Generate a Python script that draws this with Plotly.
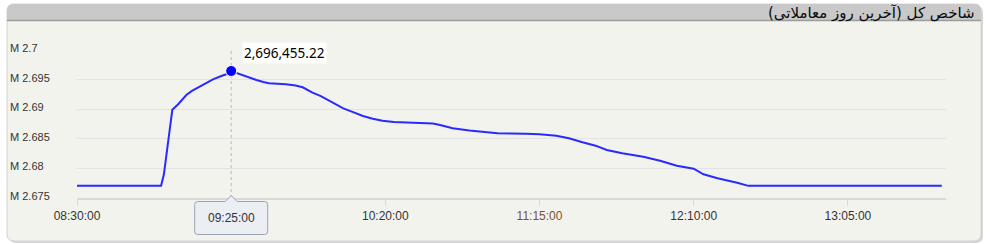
import plotly.graph_objects as go

# ---------------- data ----------------
day = "2024-01-01 "
times = ["08:30:00", "09:00:00", "09:01:00", "09:02:00", "09:03:00", "09:04:00", "09:06:00",
         "09:09:00", "09:11:00", "09:14:00", "09:16:00", "09:18:30", "09:21:30", "09:23:00",
         "09:25:00", "09:27:00", "09:29:00", "09:31:30", "09:34:00", "09:36:30", "09:38:30",
         "09:44:30", "09:48:00", "09:50:30", "09:52:30", "09:54:00", "09:57:00", "10:00:00",
         "10:03:00", "10:05:00", "10:08:30", "10:12:00", "10:15:30", "10:19:00", "10:23:00",
         "10:26:00", "10:34:00", "10:37:00", "10:39:30", "10:44:00", "10:50:00", "10:55:00",
         "11:00:00", "11:10:00", "11:15:00", "11:21:00", "11:25:30", "11:30:00", "11:35:00",
         "11:39:00", "11:44:30", "11:52:00", "11:58:00", "12:04:00", "12:10:00", "12:13:30",
         "12:18:30", "12:25:30", "12:29:30", "13:38:30"]
index_values = [2677050, 2677050, 2679000, 2682500, 2686200, 2689900, 2690800,
                2692400, 2693100, 2693850, 2694300, 2695050, 2695610, 2695850,
                2696455.22, 2696100, 2695780, 2695400, 2694930, 2694600, 2694380,
                2694210, 2694000, 2693700, 2693200, 2692790, 2692200, 2691390,
                2690600, 2690150, 2689500, 2688850, 2688400, 2688060, 2687850,
                2687800, 2687700, 2687600, 2687330, 2686780, 2686400, 2686150,
                2685930, 2685850, 2685770, 2685530, 2685090, 2684460, 2683840,
                2683110, 2682550, 2681960, 2681300, 2680460, 2679950, 2679000,
                2678330, 2677590, 2677050, 2677050]
peak_time = "09:25:00"
peak_value = 2696455.22
peak_label = "2,696,455.22"
x_tick_times = ["08:30:00", "09:25:00", "10:20:00", "11:15:00", "12:10:00", "13:05:00"]
y_tick_values = [2675000, 2680000, 2685000, 2690000, 2695000, 2700000]
y_tick_labels = ["M 2.675", "M 2.68", "M 2.685", "M 2.69", "M 2.695", "M 2.7"]
title_text = "شاخص کل (آخرین روز معاملاتی)"
x_range = ["08:30:00", "13:40:00"]

# ---------------- layout helpers ----------------
W, H = 990, 244
ML, MR, MT, MB = 77, 44, 50, 46
PW, PH = W - ML - MR, H - MT - MB


def X(px):
    return (px - ML) / PW


def Y(py):
    return (H - MB - py) / PH


def rounded_path(x0, y0, x1, y1, r, top=True, bottom=True):
    pts = []
    if top:
        pts.append(f"M{X(x0)},{Y(y0 + r)}")
        pts.append(f"Q{X(x0)},{Y(y0)} {X(x0 + r)},{Y(y0)}")
        pts.append(f"L{X(x1 - r)},{Y(y0)}")
        pts.append(f"Q{X(x1)},{Y(y0)} {X(x1)},{Y(y0 + r)}")
    else:
        pts.append(f"M{X(x0)},{Y(y0)}")
        pts.append(f"L{X(x1)},{Y(y0)}")
    if bottom:
        pts.append(f"L{X(x1)},{Y(y1 - r)}")
        pts.append(f"Q{X(x1)},{Y(y1)} {X(x1 - r)},{Y(y1)}")
        pts.append(f"L{X(x0 + r)},{Y(y1)}")
        pts.append(f"Q{X(x0)},{Y(y1)} {X(x0)},{Y(y1 - r)}")
    else:
        pts.append(f"L{X(x1)},{Y(y1)}")
        pts.append(f"L{X(x0)},{Y(y1)}")
    pts.append("Z")
    return " ".join(pts)


xs = [day + t for t in times]

fig = go.Figure()
fig.add_trace(go.Scatter(x=xs, y=index_values, mode="lines",
                         line=dict(color="#2a2aff", width=2), hoverinfo="skip"))
fig.add_trace(go.Scatter(x=[day + peak_time], y=[peak_value], mode="markers",
                         marker=dict(color="#0000ff", size=11, line=dict(color="white", width=1)),
                         hoverinfo="skip"))

shapes = []
# panel shadow + panel
shapes.append(dict(type="path", xref="paper", yref="paper", layer="below",
                   path=rounded_path(9, 6, 983, 243, 7), fillcolor="#d6d6d6", line=dict(width=0)))
shapes.append(dict(type="path", xref="paper", yref="paper", layer="below",
                   path=rounded_path(7, 4, 981, 241, 7), fillcolor="#f3f3ee",
                   line=dict(color="#d2d2d2", width=1)))
# header bar
shapes.append(dict(type="path", xref="paper", yref="paper", layer="below",
                   path=rounded_path(7, 4, 981, 20, 7, bottom=False), fillcolor="#c9c9c9",
                   line=dict(width=0)))
shapes.append(dict(type="line", xref="paper", yref="paper", layer="below",
                   x0=X(7), x1=X(981), y0=Y(20.5), y1=Y(20.5), line=dict(color="#9c9c9c", width=1.5)))
# crosshair
shapes.append(dict(type="line", xref="x", yref="paper", layer="below",
                   x0=day + peak_time, x1=day + peak_time, y0=0, y1=1,
                   line=dict(color="#b8b8b8", width=1, dash="3px,3px")))
# tooltip box with notch (positioned at the crosshair)
cx = ML + PW * 55 / 310
bx0, bx1, by0, by1 = cx - 36.5, cx + 36.5, 201.5, 234.5
tip = (f"M{X(bx0 + 3)},{Y(by0)} L{X(cx - 6)},{Y(by0)} L{X(cx)},{Y(by0 - 6)} L{X(cx + 6)},{Y(by0)} "
       f"L{X(bx1 - 3)},{Y(by0)} Q{X(bx1)},{Y(by0)} {X(bx1)},{Y(by0 + 3)} L{X(bx1)},{Y(by1 - 3)} "
       f"Q{X(bx1)},{Y(by1)} {X(bx1 - 3)},{Y(by1)} L{X(bx0 + 3)},{Y(by1)} "
       f"Q{X(bx0)},{Y(by1)} {X(bx0)},{Y(by1 - 3)} L{X(bx0)},{Y(by0 + 3)} "
       f"Q{X(bx0)},{Y(by0)} {X(bx0 + 3)},{Y(by0)} Z")
shapes.append(dict(type="path", xref="paper", yref="paper", layer="above", path=tip,
                   fillcolor="#ebeef2", line=dict(color="#97a5b3", width=1)))

annotations = []
annotations.append(dict(xref="paper", yref="paper", x=X(977), y=Y(13), xanchor="right",
                        yanchor="middle", text=title_text, showarrow=False,
                        font=dict(family="DejaVu Sans", size=15, color="#0a0a0a")))
for v, lab in zip(y_tick_values, y_tick_labels):
    annotations.append(dict(xref="paper", yref="y", x=X(8), y=v, xanchor="left", yanchor="middle",
                            yshift=2, text=lab, showarrow=False,
                            font=dict(family="Liberation Sans", size=11, color="#333333")))
annotations.append(dict(xref="x", yref="y", x=day + peak_time, y=peak_value, xanchor="left",
                        yanchor="middle", xshift=11, yshift=18, text=peak_label, showarrow=False,
                        bgcolor="rgba(255,255,255,0.85)", borderpad=1,
                        font=dict(family="Noto Sans", size=13.5, color="#000000")))
annotations.append(dict(xref="x", yref="paper", x=day + peak_time, y=Y((by0 + by1) / 2),
                        xanchor="center", yanchor="middle", text=peak_time, showarrow=False,
                        font=dict(family="Liberation Sans", size=12, color="#333333")))

tick_text = [('<span style="color:#7a5230">%s</span>' % t) if t == "11:15:00" else t
             for t in x_tick_times]

fig.update_layout(
    width=W, height=H,
    margin=dict(l=ML, r=MR, t=MT, b=MB, pad=0),
    paper_bgcolor="white", plot_bgcolor="rgba(0,0,0,0)",
    showlegend=False, shapes=shapes, annotations=annotations,
    xaxis=dict(type="date", range=[day + x_range[0], day + x_range[1]],
               tickvals=[day + t for t in x_tick_times], ticktext=tick_text,
               showgrid=False, zeroline=False, showline=True, linecolor="#d9d9d9", linewidth=2,
               ticks="outside", ticklen=6, tickcolor="#d9d9d9", tickwidth=1,
               tickfont=dict(family="Liberation Sans", size=12, color="#333333"),
               fixedrange=True),
    yaxis=dict(range=[2675000, 2700000], tickvals=y_tick_values, showticklabels=False,
               showgrid=True, gridcolor="#e3e3e3", gridwidth=1, zeroline=False, ticks="",
               fixedrange=True),
)

fig.write_html("out.html", config={"displayModeBar": False})
